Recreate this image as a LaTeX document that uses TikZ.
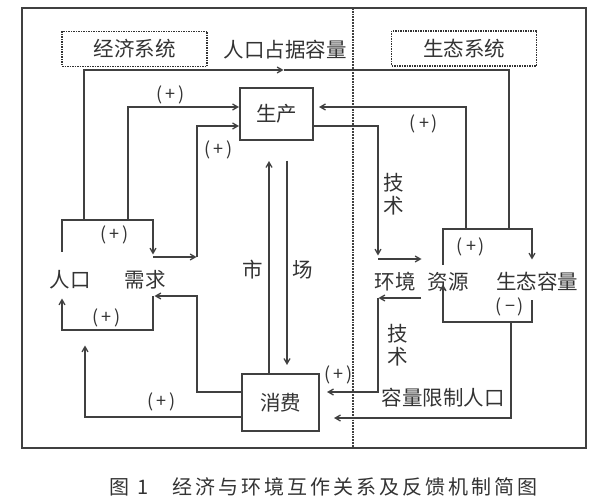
\documentclass[tikz,border=0pt]{standalone}
\usepackage{fontspec}
\setmainfont{Noto Sans CJK SC}
\newfontfamily\capfont[LetterSpace=15]{Noto Sans CJK SC}
\usepackage{tikz}
\usetikzlibrary{
  arrows,
  positioning
}

\begin{document}
\begin{tikzpicture}[
      x=1pt,y=-1pt,
      box/.style={
         rectangle,
         line width=1.1pt,
         draw=black!75,
         minimum width=73pt,
         minimum height=52pt,
         font=\fontsize{20.5}{20.5}\selectfont
      },
      sysbox/.style={
         rectangle,
         line width=1.5pt,
         densely dotted,
         draw=black!80,
         minimum width=145pt,
         minimum height=35pt,
         font=\fontsize{20.5}{20.5}\selectfont
      },
      word/.style={
         inner sep=1pt,
         align=center,
         font=\fontsize{20.5}{23}\selectfont
      },
      sign/.style={
         inner sep=0pt,
         font=\fontsize{18}{18}\selectfont
      },
      >=angle 60,line width=1.3pt,draw=black!75,text=black!80,
      tip/.style={->,shorten >=0.5pt},
    ]
    \useasboundingbox (0,0) rectangle (604,502);
    % frame and divider
    \draw[line width=1.6pt] (22,8) rectangle (586,448);
    \draw[densely dotted,line width=1.8pt] (353,8) -- (353,448);
    % boxes and words
    \node (njj) [sysbox] at (134.5,49) {经济系统};
    \node (nst) [sysbox] at (464,48.5) {生态系统};
    \node (nzr) [word] at (285,50) {人口占据容量};
    \node (nsc) [box] at (276.5,114) {生产};
    \node (nxf) [box, minimum width=77pt, minimum height=57pt] at (280.5,402.5) {消费};
    \node (nrk) [word] at (70,280) {人口};
    \node (nxq) [word] at (145,280) {需求};
    \node (nhj) [word] at (395,282) {环境};
    \node (nzy) [word] at (448,282) {资源};
    \node (nrl) [word] at (537,282) {生态容量};
    \node (nsh) [word] at (253,270) {市};
    \node (nch) [word] at (303,270) {场};
    \node (njs1) [word] at (394,194) {技\\术};
    \node (njs2) [word] at (398,345) {技\\术};
    \node (nxz) [word] at (443,398) {容量限制人口};
    % signs
    \node (np1) [sign] at (171,95) {(\,+\,)};
    \node (np2) [sign] at (219,150) {(\,+\,)};
    \node (np3) [sign] at (115,235) {(\,+\,)};
    \node (np4) [sign] at (107,318) {(\,+\,)};
    \node (np5) [sign] at (162,402) {(\,+\,)};
    \node (np6) [sign] at (339,375) {(\,+\,)};
    \node (np7) [sign] at (424,124) {(\,+\,)};
    \node (np8) [sign] at (471,247) {(\,+\,)};
    \node (nm1) [sign] at (510,307) {(\,−\,)};
    % caption
    \node (ncap) [anchor=west,inner sep=0pt] at (109,487) {\fontsize{20}{20}\capfont 图 1\hspace{24pt}经济与环境互作关系及反馈机制简图};
    % corners
    \coordinate (a1) at (62,252);
    \coordinate (a2) at (153,220);
    \coordinate (a3) at (153,255);
    \coordinate (a4) at (153,257);
    \coordinate (a5) at (197,257);
    \coordinate (b1) at (128,220);
    \coordinate (d1) at (84,220);
    \coordinate (d2) at (284,70);
    \coordinate (d3) at (509,229);
    \coordinate (e1) at (378,256);
    \coordinate (e2) at (378,259);
    \coordinate (e3) at (422,259);
    \coordinate (f1) at (466,229);
    \coordinate (g1) at (443,265);
    \coordinate (gt) at (532,229);
    \coordinate (g2) at (532,260);
    \coordinate (h1) at (532,300);
    \coordinate (h2) at (443,322);
    \coordinate (h3) at (443,284);
    \coordinate (i1) at (511,322);
    \coordinate (j1) at (421,298);
    \coordinate (j2) at (378,298);
    \coordinate (k1) at (197,296);
    \coordinate (k2) at (154,296);
    \coordinate (k3) at (153,296);
    \coordinate (k5) at (153,330);
    \coordinate (k4) at (62,298);
    \coordinate (l1) at (85,345);
    % economy side
    \draw[tip] (a1) |- (a2) -- (a3);
    \draw[tip] (a4) -- (a5);
    \draw[tip] (a5) |- ([yshift=-12pt]nsc.west);
    \draw[tip] (b1) |- ([yshift=7pt]nsc.west);
    \draw[tip] (d1) |- (d2);
    \draw (d2) -| (d3);
    \draw[tip] ([yshift=10.5pt]nxf.west) -| (k1) -- (k2);
    \draw[tip] (k3) -- (k5) -| (k4);
    \draw[tip] ([yshift=-14.5pt]nxf.west) -| (l1);
    % market
    \draw[tip] ([xshift=-11.5pt]nxf.north) -- ([xshift=-7.5pt,yshift=-20pt]nsc.south);
    \draw[tip] ([xshift=10.5pt,yshift=-20pt]nsc.south) -- ([xshift=6.5pt,yshift=8pt]nxf.north);
    % ecology side
    \draw[tip] ([yshift=-12pt]nsc.east) -| (e1);
    \draw[tip] (e2) -- (e3);
    \draw[tip] (f1) |- ([yshift=7pt,xshift=5pt]nsc.east);
    \draw[tip] (g1) |- (gt) -- (g2);
    \draw[tip] (h1) |- (h2) -- (h3);
    \draw[tip] (i1) |- ([xshift=14pt,yshift=-15.5pt]nxf.east);
    \draw[tip] (j1) -- (j2);
    \draw[tip] (j2) |- ([xshift=7pt,yshift=10.5pt]nxf.east);
\end{tikzpicture}
\end{document}
